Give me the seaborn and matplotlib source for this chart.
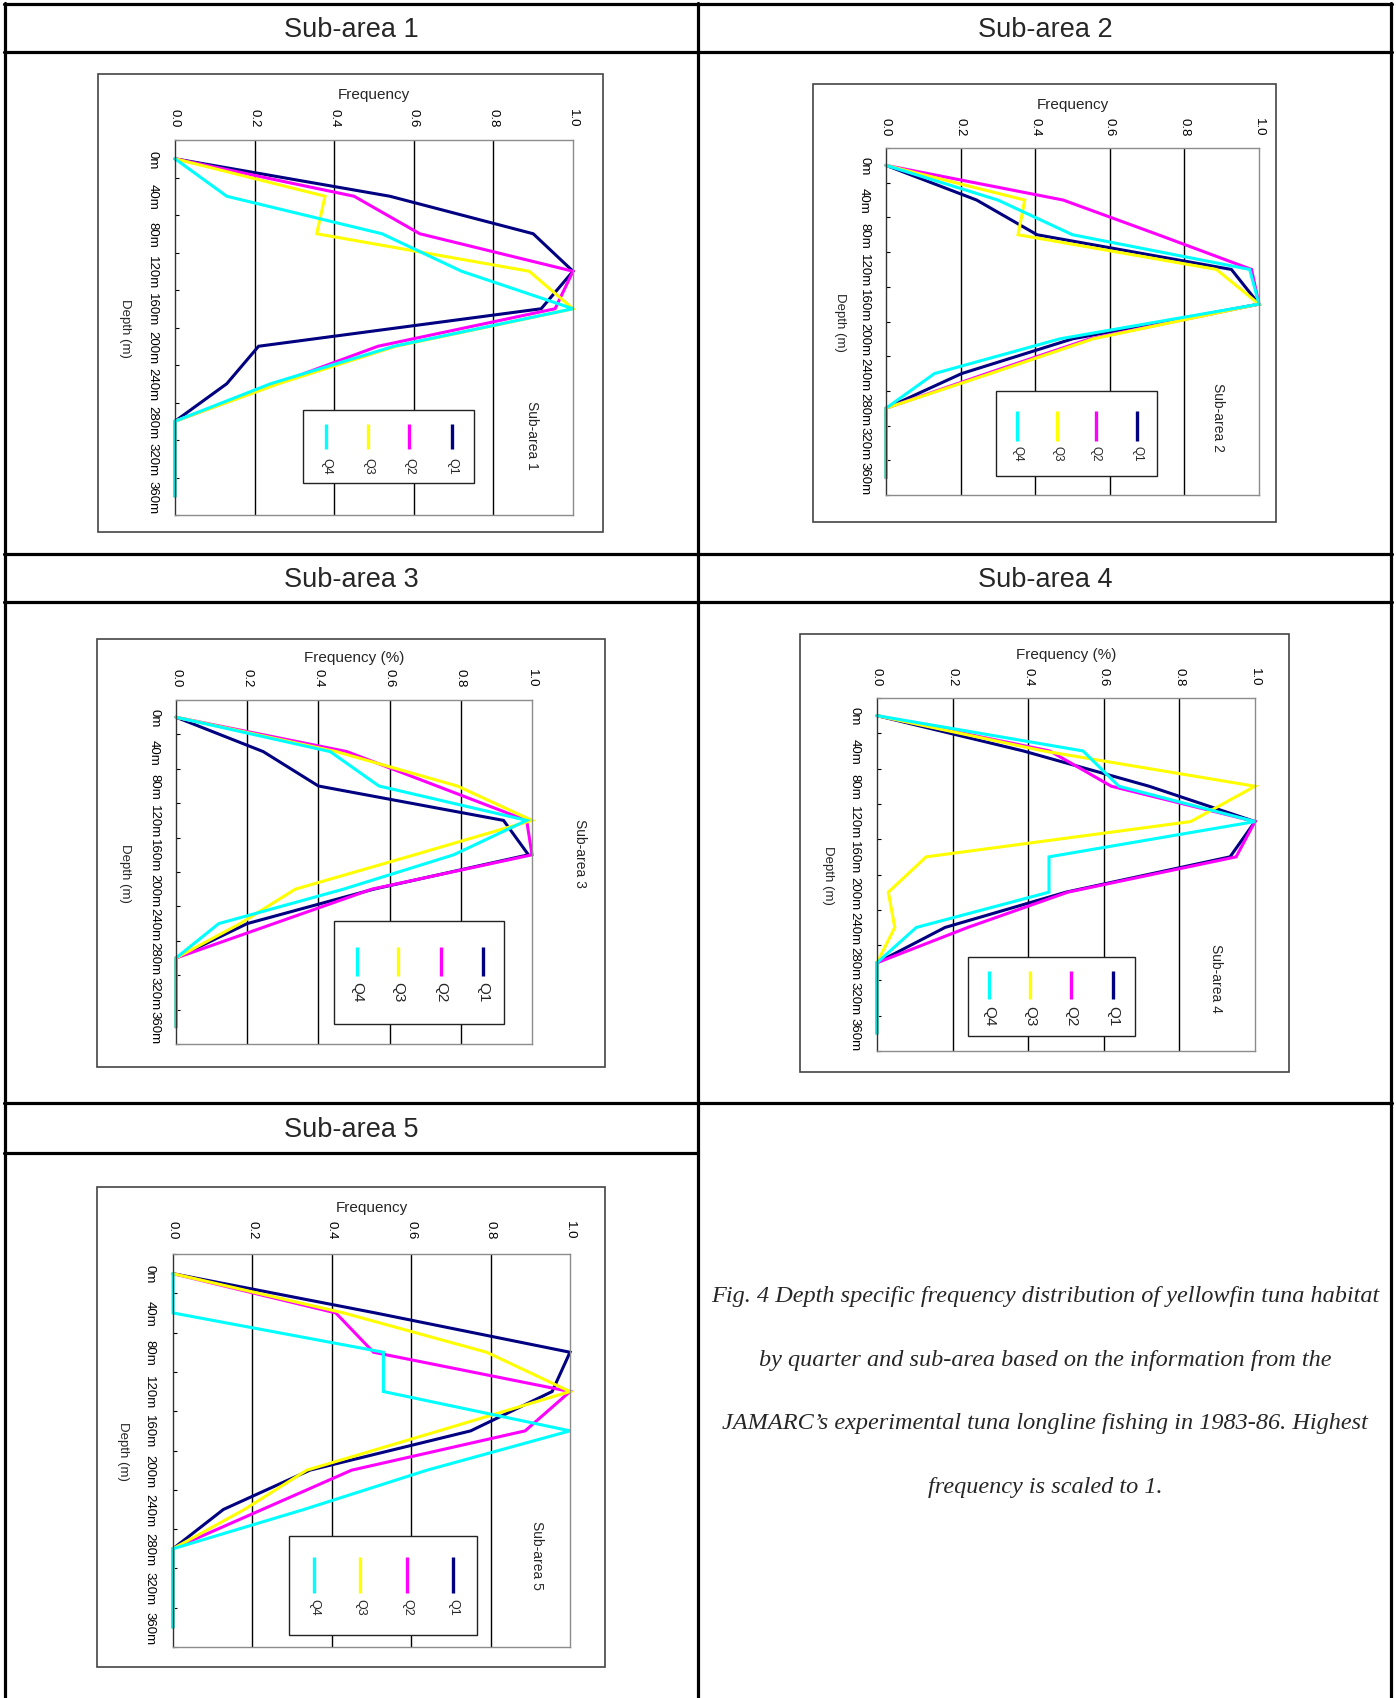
import numpy as np
import pandas as pd
import matplotlib
matplotlib.use("Agg")
import matplotlib.pyplot as plt
import seaborn as sns
from matplotlib.patches import Rectangle

# categories / ticks
depth_labels = ['0m', '40m', '80m', '120m', '160m', '200m', '240m', '280m', '320m', '360m']
freq_ticks = [0.0, 0.2, 0.4, 0.6, 0.8, 1.0]
freq_tick_labels = ['0.0', '0.2', '0.4', '0.6', '0.8', '1.0']
quarters = ['Q1', 'Q2', 'Q3', 'Q4']
q_colors = ['#000080', '#FF00FF', '#FFFF00', '#00FFFF']

# values (one value per depth class)
sub1_q1 = [0, 0.54, 0.90, 1.00, 0.92, 0.21, 0.13, 0, 0, 0]
sub1_q2 = [0, 0.45, 0.615, 1.00, 0.955, 0.51, 0.255, 0, 0, 0]
sub1_q3 = [0, 0.377, 0.356, 0.89, 1.00, 0.555, 0.26, 0, 0, 0]
sub1_q4 = [0, 0.13, 0.52, 0.72, 1.00, 0.55, 0.24, 0, 0, 0]

sub2_q1 = [0, 0.243, 0.405, 0.926, 1.00, 0.50, 0.203, 0, 0, 0]
sub2_q2 = [0, 0.475, 0.73, 0.98, 1.00, 0.546, 0.27, 0, 0, 0]
sub2_q3 = [0, 0.372, 0.354, 0.886, 1.00, 0.555, 0.28, 0, 0, 0]
sub2_q4 = [0, 0.30, 0.50, 0.975, 1.00, 0.466, 0.13, 0, 0, 0]

sub3_q1 = [0, 0.245, 0.40, 0.92, 0.99, 0.555, 0.20, 0, 0, 0]
sub3_q2 = [0, 0.48, 0.733, 0.985, 1.00, 0.55, 0.275, 0, 0, 0]
sub3_q3 = [0, 0.45, 0.79, 1.00, 0.67, 0.335, 0.18, 0, 0, 0]
sub3_q4 = [0, 0.433, 0.57, 0.985, 0.78, 0.47, 0.12, 0, 0, 0]

sub4_q1 = [0, 0.387, 0.72, 1.00, 0.934, 0.50, 0.18, 0, 0, 0]
sub4_q2 = [0, 0.457, 0.62, 1.00, 0.95, 0.505, 0.24, 0, 0, 0]
sub4_q3 = [0, 0.44, 1.00, 0.83, 0.13, 0.03, 0.047, 0, 0, 0]
sub4_q4 = [0, 0.545, 0.64, 1.00, 0.455, 0.455, 0.104, 0, 0, 0]

sub5_q1 = [0, 0.51, 1.00, 0.955, 0.75, 0.345, 0.127, 0, 0, 0]
sub5_q2 = [0, 0.41, 0.505, 1.00, 0.887, 0.45, 0.225, 0, 0, 0]
sub5_q3 = [0, 0.43, 0.79, 1.00, 0.67, 0.337, 0.18, 0, 0, 0]
sub5_q4 = [0, 0, 0.53, 0.53, 1.00, 0.64, 0.33, 0, 0, 0]

caption = ["Fig. 4 Depth specific frequency distribution of yellowfin tuna habitat",
           "by quarter and sub-area based on the information from the",
           "JAMARC\u2019s experimental tuna longline fishing in 1983-86. Highest",
           "frequency is scaled to 1."]

sns.set_theme(style='white')
plt.rcParams['font.family'] = ['Liberation Sans', 'DejaVu Sans']

W, H = 1396, 1699
fig = plt.figure(figsize=(W / 100, H / 100), dpi=100)

# layout in pixels
panels = [
    dict(title='Sub-area 1', series=[sub1_q1, sub1_q2, sub1_q3, sub1_q4], xlabel='Frequency',
         plot=(175, 141, 573, 516), box=(98, 75, 603, 533), xpad=9.7, ypad=12.0,
         xlab_y=95, ylab_x=125, sub=(532, 435),
         leg=(303, 411, 474, 484), leg_x=[452, 409, 368, 326], leg_y=(425, 450, 466), leg_fs=9),
    dict(title='Sub-area 2', series=[sub2_q1, sub2_q2, sub2_q3, sub2_q4], xlabel='Frequency',
         plot=(886, 149, 1259, 496), box=(813, 85, 1276, 523), xpad=9.0, ypad=11.4,
         xlab_y=105, ylab_x=840, sub=(1218, 418),
         leg=(996, 392, 1157, 477), leg_x=[1137, 1096, 1057, 1017], leg_y=(412, 442, 454), leg_fs=8.5),
    dict(title='Sub-area 3', series=[sub3_q1, sub3_q2, sub3_q3, sub3_q4], xlabel='Frequency (%)',
         plot=(176, 701, 532, 1045), box=(97, 640, 605, 1068), xpad=9.7, ypad=11.4,
         xlab_y=658, ylab_x=125, sub=(580, 853),
         leg=(334, 922, 504, 1025), leg_x=[483, 441, 398, 357], leg_y=(948, 977, 992), leg_fs=11),
    dict(title='Sub-area 4', series=[sub4_q1, sub4_q2, sub4_q3, sub4_q4], xlabel='Frequency (%)',
         plot=(877, 699, 1255, 1052), box=(800, 635, 1289, 1073), xpad=9.0, ypad=12.0,
         xlab_y=655, ylab_x=828, sub=(1216, 978),
         leg=(968, 958, 1135, 1037), leg_x=[1113, 1071, 1030, 989], leg_y=(972, 1000, 1016), leg_fs=11),
    dict(title='Sub-area 5', series=[sub5_q1, sub5_q2, sub5_q3, sub5_q4], xlabel='Frequency',
         plot=(173, 1255, 570, 1648), box=(97, 1188, 605, 1668), xpad=11.1, ypad=12.7,
         xlab_y=1208, ylab_x=123, sub=(537, 1555),
         leg=(289, 1537, 477, 1636), leg_x=[453, 407, 360, 314], leg_y=(1558, 1594, 1607), leg_fs=9),
]

# overlay for the table, chart frames, legends and caption
ov = fig.add_axes([0, 0, 1, 1], zorder=10)
ov.set_xlim(0, W)
ov.set_ylim(H, 0)
ov.axis('off')
ov.patch.set_alpha(0)

for p in panels:
    l, t, r, b = p['plot']
    ax = fig.add_axes([l / W, 1 - b / H, (r - l) / W, (b - t) / H])
    df = pd.DataFrame({
        'depth': np.tile(np.arange(len(depth_labels)), len(quarters)),
        'freq': np.concatenate(p['series']),
        'quarter': np.repeat(quarters, len(depth_labels)),
    })
    sns.lineplot(data=df, x='freq', y='depth', hue='quarter', hue_order=quarters,
                 palette=q_colors, sort=False, estimator=None, legend=False,
                 linewidth=2.2, ax=ax)
    for ln in ax.lines:
        ln.set_clip_on(False)
        ln.set_solid_joinstyle('miter')

    ax.set_xlim(0, 1)
    ax.set_ylim(len(depth_labels) - 0.5, -0.5)
    ax.set_axisbelow(True)

    ax.set_xticks(freq_ticks)
    ax.set_xticklabels(freq_tick_labels)
    ax.tick_params(axis='x', top=True, labeltop=True, bottom=False, labelbottom=False,
                   length=0, pad=p['xpad'], labelrotation=-90, labelsize=9.5, labelcolor='black')
    ax.xaxis.grid(True, color='black', linewidth=1.0)
    gl = ax.xaxis.get_gridlines()
    gl[0].set_visible(False)
    gl[-1].set_visible(False)

    ax.set_yticks(range(len(depth_labels)))
    ax.set_yticklabels(depth_labels)
    ax.set_yticks(np.arange(-0.5, len(depth_labels), 1.0), minor=True)
    ax.tick_params(axis='y', which='major', left=True, labelleft=True, length=0,
                   pad=p['ypad'], labelsize=9.5, labelcolor='black')
    ax.tick_params(axis='y', which='minor', left=True, direction='in', length=3,
                   width=0.8, color='black')
    for tl in ax.get_yticklabels():
        tl.set_rotation(-90)
        tl.set_va('center')
        tl.set_ha('right')

    ax.set_xlabel('')
    ax.set_ylabel('')
    for side in ['top', 'right', 'bottom']:
        ax.spines[side].set_color('#8c8c8c')
        ax.spines[side].set_linewidth(1.0)
    ax.spines['left'].set_color('#333333')
    ax.spines['left'].set_linewidth(1.0)

    # axis titles
    ov.text((l + r) / 2, p['xlab_y'], p['xlabel'], ha='center', va='center', fontsize=11)
    ov.text(p['ylab_x'], (t + b) / 2, 'Depth (m)', ha='center', va='center',
            rotation=-90, fontsize=9.5)
    ov.text(p['sub'][0], p['sub'][1], p['title'], ha='center', va='center',
            rotation=-90, fontsize=10)

    # chart frame
    bl, bt, br, bb = p['box']
    ov.add_patch(Rectangle((bl, bt), br - bl, bb - bt, fill=False,
                           edgecolor='#444444', linewidth=1.2))

    # legend (rotated like the chart)
    ll, lt, lr, lb = p['leg']
    ov.add_patch(Rectangle((ll, lt), lr - ll, lb - lt, facecolor='white',
                           edgecolor='#222222', linewidth=1.0))
    y0, y1, ytxt = p['leg_y']
    for q, c, x in zip(quarters, q_colors, p['leg_x']):
        ov.plot([x, x], [y0, y1], color=c, linewidth=2.4, solid_capstyle='butt')
        ov.text(x, ytxt, q, ha='center', va='center', rotation=-90, fontsize=p['leg_fs'])

# table grid
tl_kw = dict(color='black', linewidth=2.3)
ov.plot([5, 5], [4, H], **tl_kw)
ov.plot([1391, 1391], [4, H], **tl_kw)
ov.plot([698, 698], [4, H], **tl_kw)
for y in [5, 53, 555, 603, 1104]:
    ov.plot([4, 1392], [y, y], **tl_kw)
ov.plot([4, 698], [1154, 1154], **tl_kw)

# cell headers
ov.text(351, 30, 'Sub-area 1', ha='center', va='center', fontsize=19.5)
ov.text(1045, 30, 'Sub-area 2', ha='center', va='center', fontsize=19.5)
ov.text(351, 580, 'Sub-area 3', ha='center', va='center', fontsize=19.5)
ov.text(1045, 580, 'Sub-area 4', ha='center', va='center', fontsize=19.5)
ov.text(351, 1130, 'Sub-area 5', ha='center', va='center', fontsize=19.5)

# caption
for i, line in enumerate(caption):
    ov.text(1045, 1297 + i * 63.5, line, ha='center', va='center', fontsize=17.5,
            style='italic', family=['Liberation Serif', 'DejaVu Serif'])

fig.savefig('out.png', dpi=100)
